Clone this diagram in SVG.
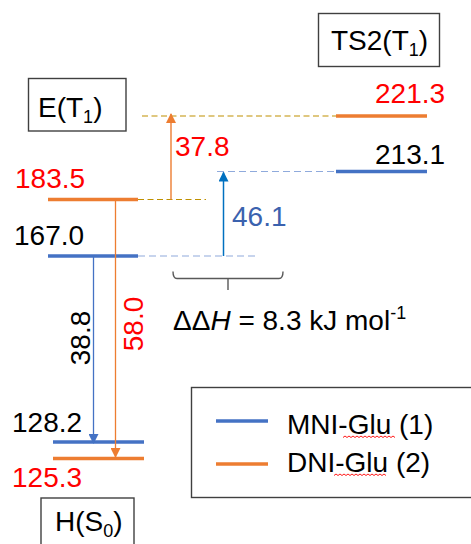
<svg xmlns="http://www.w3.org/2000/svg" width="471" height="544" viewBox="0 0 471 544">
  <style>
    text { font-family: "Liberation Sans", Arial, sans-serif; font-size: 28px; }
    .red { fill: #FF0000; }
    .blk { fill: #000000; }
    .box { fill: none; stroke: #404040; stroke-width: 1.4; }
    .lvl-b { stroke: #4472C4; stroke-width: 3.5; }
    .lvl-o { stroke: #ED7D31; stroke-width: 3.5; }
    .dash-o { stroke: #BF9000; stroke-width: 1.2; stroke-dasharray: 6 3.5; fill: none; }
    .dash-b { stroke: #8FAADC; stroke-width: 1.2; stroke-dasharray: 7 4; fill: none; }
    .sub { font-size: 18px; }
    .squig { fill: none; stroke: #FF0000; stroke-width: 0.9; }
  </style>
  <defs>
    <marker id="ah-orange" viewBox="0 0 10 10" refX="9" refY="5" markerWidth="10" markerHeight="10" markerUnits="userSpaceOnUse" orient="auto">
      <path d="M0,0 L10,5 L0,10 z" fill="#ED7D31"/>
    </marker>
    <marker id="ah-blue" viewBox="0 0 10 10" refX="9" refY="5" markerWidth="10" markerHeight="10" markerUnits="userSpaceOnUse" orient="auto">
      <path d="M0,0 L10,5 L0,10 z" fill="#4472C4"/>
    </marker>
    <marker id="ah-dblue" viewBox="0 0 10 10" refX="9" refY="5" markerWidth="10" markerHeight="10" markerUnits="userSpaceOnUse" orient="auto">
      <path d="M0,0 L10,5 L0,10 z" fill="#0070C0"/>
    </marker>
  </defs>

  <rect width="471" height="544" fill="#FFFFFF"/>

  <!-- state labels -->
  <g id="ts2-box">
    <rect class="box" x="318.5" y="13.5" width="121" height="53"/>
    <text class="blk" x="331" y="50">TS2(T<tspan class="sub" dy="6">1</tspan><tspan dy="-6">)</tspan></text>
  </g>
  <g id="e-box">
    <rect class="box" x="28.5" y="78.5" width="97.5" height="52.5"/>
    <text class="blk" x="38" y="117">E(T<tspan class="sub" dy="6">1</tspan><tspan dy="-6">)</tspan></text>
  </g>
  <g id="h-box">
    <rect class="box" x="41" y="498" width="93" height="60"/>
    <text class="blk" x="55" y="531">H(S<tspan class="sub" dy="6">0</tspan><tspan dy="-6">)</tspan></text>
  </g>

  <!-- energy levels -->
  <g id="level-ts2-dni">
    <line class="lvl-o" x1="336" y1="116" x2="427" y2="116"/>
    <text class="red" x="375" y="103">221.3</text>
  </g>
  <g id="level-ts2-mni">
    <line class="lvl-b" x1="336" y1="171.5" x2="427" y2="171.5"/>
    <text class="blk" x="375" y="164">213.1</text>
  </g>
  <g id="level-e-dni">
    <line class="lvl-o" x1="48" y1="199.5" x2="138" y2="199.5"/>
    <text class="red" x="15" y="188">183.5</text>
  </g>
  <g id="level-e-mni">
    <line class="lvl-b" x1="48" y1="256" x2="138" y2="256"/>
    <text class="blk" x="14" y="245">167.0</text>
  </g>
  <g id="level-h-mni">
    <line class="lvl-b" x1="53" y1="442" x2="144" y2="442"/>
    <text class="blk" x="12" y="432">128.2</text>
  </g>
  <g id="level-h-dni">
    <line class="lvl-o" x1="53" y1="458.5" x2="144" y2="458.5"/>
    <text class="red" x="12" y="487">125.3</text>
  </g>

  <!-- connectors: guide lines and transitions -->
  <g id="connectors">
    <line class="dash-o" x1="142" y1="116" x2="336" y2="116"/>
    <line class="dash-b" x1="217" y1="171.5" x2="336" y2="171.5"/>
    <line class="dash-o" x1="138" y1="199.5" x2="206" y2="199.5"/>
    <line class="dash-b" x1="138" y1="256" x2="257" y2="256"/>

    <line x1="171" y1="199.5" x2="171" y2="114" stroke="#ED7D31" stroke-width="1.4" marker-end="url(#ah-orange)"/>
    <line x1="223.5" y1="256" x2="223.5" y2="172.5" stroke="#0070C0" stroke-width="1.5" marker-end="url(#ah-dblue)"/>
    <line x1="93.5" y1="256" x2="93.5" y2="443" stroke="#4472C4" stroke-width="1.3" marker-end="url(#ah-blue)"/>
    <line x1="115.5" y1="199.5" x2="115.5" y2="457" stroke="#ED7D31" stroke-width="1.3" marker-end="url(#ah-orange)"/>
  </g>

  <!-- transition values -->
  <g id="value-37-8"><text class="red" x="175" y="156">37.8</text></g>
  <g id="value-46-1"><text x="232" y="226" fill="#3B62AE">46.1</text></g>
  <g id="value-38-8"><text class="blk" transform="translate(90,338) rotate(-90)" text-anchor="middle">38.8</text></g>
  <g id="value-58-0"><text class="red" transform="translate(143,324) rotate(-90)" text-anchor="middle">58.0</text></g>

  <!-- difference brace -->
  <g id="ddh">
    <path d="M173,271.5 Q173,278.5 177,278.5 L279,278.5 Q283,278.5 283,271.5 M228,278.5 L228,290" fill="none" stroke="#595959" stroke-width="1.4"/>
    <text class="blk" x="173" y="330">ΔΔ<tspan font-style="italic">H</tspan> = 8.3 kJ mol<tspan font-size="18" dy="-11">-1</tspan></text>
  </g>

  <!-- legend -->
  <g id="legend">
    <rect class="box" x="191.5" y="387.5" width="290" height="110"/>
    <line class="lvl-b" x1="216" y1="421" x2="268" y2="421"/>
    <text class="blk" x="287" y="434">MNI-Glu (1)</text>
    <path class="squig" d="M343,437.5 l2,-1.5 l2,1.5 l2,-1.5 l2,1.5 l2,-1.5 l2,1.5 l2,-1.5 l2,1.5 l2,-1.5 l2,1.5 l2,-1.5 l2,1.5 l2,-1.5 l2,1.5 l2,-1.5 l2,1.5 l2,-1.5 l2,1.5 l2,-1.5 l2,1.5 l2,-1.5 l2,1.5 l2,-1.5 l2,1.5 l2,-1.5 l2,1.5"/>
    <line class="lvl-o" x1="216" y1="464" x2="268" y2="464"/>
    <text class="blk" x="287" y="472">DNI-Glu (2)</text>
    <path class="squig" d="M334,475.5 l2,-1.5 l2,1.5 l2,-1.5 l2,1.5 l2,-1.5 l2,1.5 l2,-1.5 l2,1.5 l2,-1.5 l2,1.5 l2,-1.5 l2,1.5 l2,-1.5 l2,1.5 l2,-1.5 l2,1.5 l2,-1.5 l2,1.5 l2,-1.5 l2,1.5 l2,-1.5 l2,1.5 l2,-1.5 l2,1.5 l2,-1.5 l2,1.5"/>
  </g>
</svg>
